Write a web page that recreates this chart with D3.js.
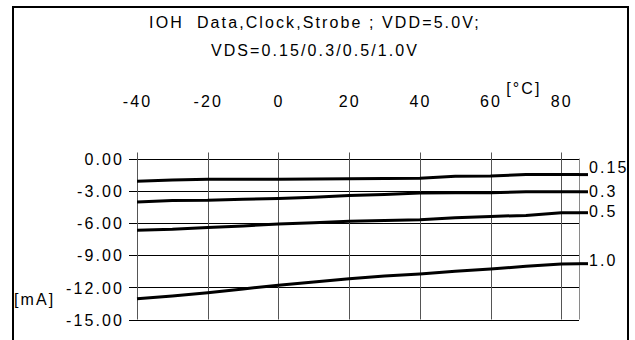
<!DOCTYPE html>
<html>
<head>
<meta charset="utf-8">
<script src="https://cdn.jsdelivr.net/npm/d3@7"></script>
<style>
  html, body { margin: 0; padding: 0; background: #fff; }
  svg text { font-family: "Liberation Sans", Arial, Helvetica, sans-serif; fill: #000; }
</style>
</head>
<body>
<svg id="chart" width="635" height="340"></svg>
<script>
// Output current IOH vs. temperature for four VDS levels
const temps  = [-40, -30, -20, -10, 0, 10, 20, 30, 40, 50, 60, 70, 80, 85];
const vds015 = [-2.12, -2.00, -1.93, -1.93, -1.93, -1.90, -1.88, -1.86, -1.85, -1.66, -1.64, -1.50, -1.50, -1.50];
const vds03  = [-4.05, -3.92, -3.90, -3.80, -3.73, -3.60, -3.45, -3.35, -3.22, -3.20, -3.20, -3.10, -3.10, -3.10];
const vds05  = [-6.69, -6.60, -6.42, -6.28, -6.10, -5.98, -5.85, -5.78, -5.70, -5.52, -5.40, -5.30, -5.05, -5.05];
const vds10  = [-13.07, -12.80, -12.50, -12.15, -11.80, -11.50, -11.20, -10.95, -10.75, -10.50, -10.30, -10.05, -9.82, -9.80];
const seriesNames = ["0.15", "0.3", "0.5", "1.0"];
const xTicks = [-40, -20, 0, 20, 40, 60, 80];
const yTicks = [0, -3, -6, -9, -12, -15];
const titleLines = ["IOH  Data,Clock,Strobe ; VDD=5.0V;", "VDS=0.15/0.3/0.5/1.0V"];
const xUnit = "[°C]";
const yUnit = "[mA]";

const series = [vds015, vds03, vds05, vds10].map((vals, i) => ({
  name: seriesNames[i],
  points: temps.map((t, j) => ({ t, v: vals[j] }))
}));

const svg = d3.select("#chart");
const FONT = 16, SPACING = "2.1px";

const x = d3.scaleLinear().domain([-40, 85]).range([137, 579]);
const y = d3.scaleLinear().domain([0, -15]).range([158.5, 319.5]);
const crisp = v => Math.round(v) + 0.5;

// outer frame (open at the bottom)
svg.append("path")
  .attr("d", "M13,345V7H628V345")
  .attr("fill", "none").attr("stroke", "#000").attr("stroke-width", 2);

// title
svg.append("g").selectAll("text").data(titleLines).join("text")
  .attr("x", 315).attr("y", (d, i) => 28 + i * 28)
  .attr("text-anchor", "middle")
  .attr("font-size", FONT).style("letter-spacing", SPACING)
  .attr("xml:space", "preserve").style("white-space", "pre")
  .text(d => d);

// horizontal grid lines with left ticks
const grid = svg.append("g");
grid.selectAll("line.h").data(yTicks).join("line")
  .attr("class", "h")
  .attr("x1", x(-40) - 8).attr("x2", x(85))
  .attr("y1", d => crisp(y(d))).attr("y2", d => crisp(y(d)))
  .attr("stroke", "#000").attr("stroke-width", 1);

// vertical grid lines with top ticks
grid.selectAll("line.v").data(xTicks).join("line")
  .attr("class", "v")
  .attr("x1", d => crisp(x(d))).attr("x2", d => crisp(x(d)))
  .attr("y1", y(0) - 6).attr("y2", y(-15))
  .attr("stroke", "#555").attr("stroke-width", 1);

// right edge of the plot
grid.append("line")
  .attr("x1", crisp(x(85))).attr("x2", crisp(x(85)))
  .attr("y1", y(0)).attr("y2", y(-15))
  .attr("stroke", "#8a8a8a").attr("stroke-width", 1);

// x axis labels along the top
const xAxis = d3.axisTop(x).tickValues(xTicks).tickSize(0).tickPadding(52)
  .tickFormat(d => String(d));
svg.append("g").attr("transform", `translate(0,${y(0)})`).call(xAxis)
  .call(g => g.select(".domain").remove())
  .call(g => g.selectAll("text").attr("font-size", FONT).style("letter-spacing", SPACING)
    .attr("font-family", null));

// y axis labels
const yAxis = d3.axisLeft(y).tickValues(yTicks).tickSize(0).tickPadding(13)
  .tickFormat(d => d.toFixed(2));
svg.append("g").attr("transform", `translate(${x(-40)},0)`).call(yAxis)
  .call(g => g.select(".domain").remove())
  .call(g => g.selectAll("text").attr("font-size", FONT).style("letter-spacing", SPACING)
    .attr("font-family", null).attr("dy", "0.36em"));

// unit labels
svg.append("text").attr("x", (x(60) + x(80)) / 2 - 2).attr("y", 94)
  .attr("text-anchor", "middle").attr("font-size", FONT).style("letter-spacing", SPACING)
  .text(xUnit);
svg.append("text").attr("x", 14).attr("y", 305)
  .attr("font-size", FONT).style("letter-spacing", SPACING)
  .text(yUnit);

// curves
const line = d3.line().x(d => x(d.t)).y(d => y(d.v));
const lines = svg.append("g");
lines.selectAll("path").data(series).join("path")
  .attr("d", d => line(d.points))
  .attr("fill", "none").attr("stroke", "#000").attr("stroke-width", 3)
  .attr("stroke-linejoin", "round");

// leaders and series labels at the right end
const labelShift = { "0.15": -7, "0.3": -1, "0.5": -1, "1.0": -3 };
const last = d => d.points[d.points.length - 1];
lines.selectAll("line.lead").data(series).join("line")
  .attr("class", "lead")
  .attr("x1", d => x(last(d).t)).attr("x2", d => x(last(d).t) + 9)
  .attr("y1", d => y(last(d).v)).attr("y2", d => y(last(d).v))
  .attr("stroke", "#000").attr("stroke-width", 3);
svg.append("g").selectAll("text").data(series).join("text")
  .attr("x", d => x(last(d).t) + 10)
  .attr("y", d => y(last(d).v) + labelShift[d.name])
  .attr("dy", "0.36em")
  .attr("font-size", FONT).style("letter-spacing", SPACING)
  .text(d => d.name);
</script>
</body>
</html>
